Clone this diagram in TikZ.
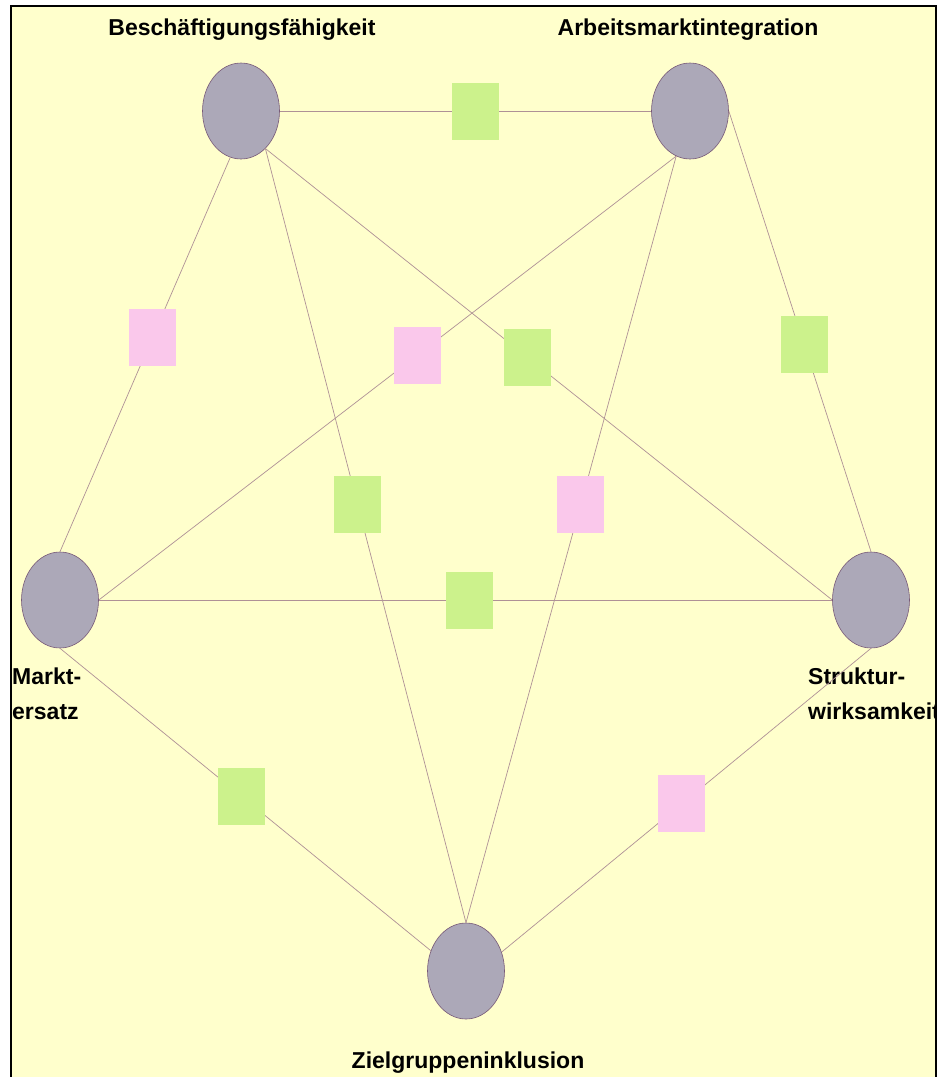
\documentclass[tikz,border=0pt]{standalone}
\usepackage{fontspec}
\setmainfont{Liberation Sans}
\usetikzlibrary{shapes.geometric}

\definecolor{bgyellow}{RGB}{255,255,204}
\definecolor{goalgray}{RGB}{172,168,184}
\definecolor{goalline}{RGB}{120,90,120}
\definecolor{boxgreen}{RGB}{204,242,140}
\definecolor{boxpink}{RGB}{250,200,235}
\definecolor{linkcol}{RGB}{175,145,150}

\begin{document}
\begin{tikzpicture}[x=1pt, y=-1pt,
    goal/.style={ellipse, fill=goalgray, draw=goalline, line width=0.6pt,
        minimum width=77pt, minimum height=96pt, inner sep=0pt},
    greenbox/.style={fill=boxgreen, minimum width=47pt, minimum height=57pt, inner sep=0pt},
    pinkbox/.style={fill=boxpink, minimum width=47pt, minimum height=57pt, inner sep=0pt},
    link/.style={draw=linkcol, line width=0.7pt},
    goaltext/.style={font=\fontsize{23}{35}\selectfont\bfseries, inner sep=0pt}]
    \useasboundingbox (0,0) rectangle (937,1077);
    \fill[bgyellow] (11,6) rectangle (935,1077);

    % the five goals
    \node[goal] (B) at (241,111) {};
    \node[goal] (A) at (690,111) {};
    \node[goal] (M) at (60,600) {};
    \node[goal] (S) at (871,600) {};
    \node[goal] (Z) at (466,971) {};

    \node[goaltext, anchor=base] (tB) at (242,35) {Beschäftigungsfähigkeit};
    \node[goaltext, anchor=base] (tA) at (688,35) {Arbeitsmarktintegration};
    \node[goaltext, anchor=base] (tZ) at (468,1068) {Zielgruppeninklusion};
    \node[goaltext, anchor=north west, align=left] (tM) at (12,668) {Markt-\\ersatz};
    \node[goaltext, anchor=north west, align=left] (tS) at (808,668) {Struktur-\\wirksamkeit};

    % links with their boxes
    \draw[link] (B.east) -- node[greenbox, pos=0.528] (qBA) {} (A.west);
    \draw[link] (B.257) -- node[pinkbox, pos=0.457] (qBM) {} (M.north);
    \draw[link] (B.303) -- node[greenbox, pos=0.46] (qBZ) {} (Z.north);
    \draw[link] (B.303) -- node[greenbox, pos=0.4625] (qBS) {} (S.west);
    \draw[link] (A.253) -- node[pinkbox, pos=0.4485] (qAM) {} (M.east);
    \draw[link] (A.253) -- node[pinkbox, pos=0.454] (qAZ) {} (Z.north);
    \draw[link] (A.east) -- node[greenbox, pos=0.53] (qAS) {} (S.north);
    \draw[link] (M.east) -- node[greenbox, pos=0.506] (qMS) {} (S.west);
    \draw[link] (M.south) -- node[greenbox, pos=0.489] (qMZ) {} (Z.150);
    \draw[link] (S.south) -- node[pinkbox, pos=0.512] (qSZ) {} (Z.28);

    % frame
    \draw[black, line width=2pt] (11,1077) -- (11,6) -- (935.5,6) -- (935.5,1077);
\end{tikzpicture}
\end{document}
